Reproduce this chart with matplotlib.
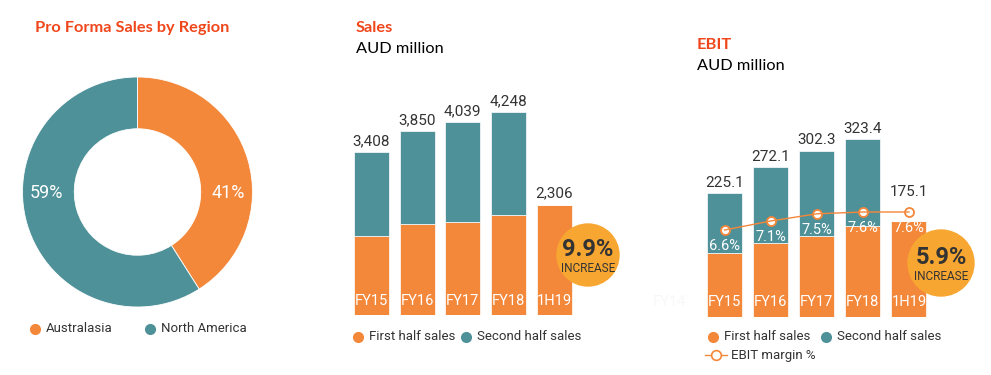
import matplotlib
matplotlib.use("Agg")
import matplotlib.pyplot as plt
from matplotlib.patches import Circle
from matplotlib.lines import Line2D

# ---------------------------------------------------------------------------
# Data
# ---------------------------------------------------------------------------
regions       = ["Australasia", "North America"]
region_share  = [41, 59]

periods       = ["FY15", "FY16", "FY17", "FY18", "1H19"]
sales_total   = [3408, 3850, 4039, 4248, 2306]
sales_first   = [1650, 1905, 1950, 2098, 2306]
sales_growth  = "9.9%"

ebit_total    = [225.1, 272.1, 302.3, 323.4, 175.1]
ebit_first    = [116.0, 135.0, 148.0, 165.3, 175.1]
ebit_margin   = [6.6, 7.1, 7.5, 7.6, 7.6]
ebit_growth   = "5.9%"

# ---------------------------------------------------------------------------
# Style
# ---------------------------------------------------------------------------
ORANGE = "#F3873A"
TEAL   = "#4F9199"
BADGE  = "#F7A731"
RED    = "#F0461B"
DARK   = "#333333"
W, H   = 991, 375
NUM_FONT = "Roboto"
TITLE_FONT = "Lato"


def ax_px(fig, x0, y0, x1, y1):
    """axes from pixel box (top-left origin)"""
    return fig.add_axes([x0 / W, (H - y1) / H, (x1 - x0) / W, (y1 - y0) / H])


fig = plt.figure(figsize=(W / 100, H / 100), dpi=100, facecolor="white")

# ------------------------------------------------------------------ #
# Donut
# ------------------------------------------------------------------ #
ax_d = ax_px(fig, 22.5, 77, 252.5, 307)
ax_d.pie(region_share, colors=[ORANGE, TEAL], startangle=90, counterclock=False,
         radius=1, wedgeprops=dict(width=0.45, edgecolor="white", linewidth=0.6))
ax_d.set_xlim(-1, 1)
ax_d.set_ylim(-1, 1)
ax_d.set_aspect("equal")
ax_d.axis("off")
ax_d.text(0.79, -0.01, f"{region_share[0]}%", color="white", fontsize=13,
          ha="center", va="center", family=NUM_FONT)
ax_d.text(-0.79, -0.01, f"{region_share[1]}%", color="white", fontsize=13,
          ha="center", va="center", family=NUM_FONT)

# ------------------------------------------------------------------ #
# Sales
# ------------------------------------------------------------------ #
ax_s = ax_px(fig, 348.5, 80, 577, 315)
xs = range(len(periods))
second = [t - f for t, f in zip(sales_total, sales_first)]
ax_s.bar(xs, sales_first, width=0.765, color=ORANGE, edgecolor="white", linewidth=0.5)
ax_s.bar(xs, second, bottom=sales_first, width=0.765, color=TEAL,
         edgecolor="white", linewidth=0.5)
ax_s.set_xlim(-0.5, 4.5)
ax_s.set_ylim(0, 235 / 0.0477)
ax_s.axis("off")
for x, t, p in zip(xs, sales_total, periods):
    ax_s.text(x, t + 90, f"{t:,}", ha="center", va="bottom", fontsize=11,
              color=DARK, family=NUM_FONT)
    ax_s.text(x, 290, p, ha="center", va="center", fontsize=10.5,
              color="white", family=NUM_FONT)

# ------------------------------------------------------------------ #
# EBIT
# ------------------------------------------------------------------ #
ax_e = ax_px(fig, 701.5, 100, 932, 317)
second_e = [t - f for t, f in zip(ebit_total, ebit_first)]
ax_e.bar(xs, ebit_first, width=0.76, color=ORANGE, edgecolor="white", linewidth=0.5)
ax_e.bar(xs, second_e, bottom=ebit_first, width=0.76, color=TEAL,
         edgecolor="white", linewidth=0.5)
ax_e.set_xlim(-0.5, 4.5)
ax_e.set_ylim(0, 217 / 0.55)
ax_e.axis("off")
for i, (x, t, p) in enumerate(zip(xs, ebit_total, periods)):
    lift = 40 if i == len(periods) - 1 else 6   # last label sits above the margin line
    ax_e.text(x, t + lift, f"{t:.1f}", ha="center", va="bottom", fontsize=11,
              color=DARK, family=NUM_FONT)
    ax_e.text(x, 27, p, ha="center", va="center", fontsize=10.5,
              color="white", family=NUM_FONT)
ax_e.text(-1.2, 27, "FY14", ha="center", va="center", fontsize=10.5,
          color="#f8f8f8", family=NUM_FONT, clip_on=False)

# margin on twin axis: 18 px per 1 %, 6.6 % sits 87 px above base
ax_m = ax_e.twinx()
m0 = 6.6 - 87 / 18
ax_m.set_ylim(m0, m0 + 217 / 18)
ax_m.plot(xs, ebit_margin, "o", markersize=6.5, markerfacecolor="white",
          markeredgecolor=ORANGE, markeredgewidth=1.3, zorder=3)
ax_m.plot(xs, ebit_margin, color=ORANGE, linewidth=1.0, zorder=4)
for x, m in zip(xs, ebit_margin):
    ax_m.text(x, m - 0.9, f"{m}%", ha="center", va="center", fontsize=10.5,
              color="white", family=NUM_FONT)
ax_m.axis("off")

# ------------------------------------------------------------------ #
# Overlay: titles, badges, legends (pixel coords)
# ------------------------------------------------------------------ #
ov = fig.add_axes([0, 0, 1, 1], zorder=10)
ov.set_xlim(0, W)
ov.set_ylim(H, 0)
ov.axis("off")
ov.patch.set_alpha(0)

ov.text(35, 28, "Pro Forma Sales by Region", color=RED, fontsize=11.8,
        fontweight="bold", family=TITLE_FONT, va="center")
ov.text(356, 28, "Sales", color=RED, fontsize=11.8, fontweight="bold",
        family=TITLE_FONT, va="center")
ov.text(356, 49, "AUD million", color="black", fontsize=11.8,
        family=TITLE_FONT, va="center")
ov.text(697, 45, "EBIT", color=RED, fontsize=11.8, fontweight="bold",
        family=TITLE_FONT, va="center")
ov.text(697, 66, "AUD million", color="black", fontsize=11.8,
        family=TITLE_FONT, va="center")

for (cx, cy, r), g in zip([(588, 255, 31), (941, 263, 33)], [sales_growth, ebit_growth]):
    ov.add_patch(Circle((cx, cy), r, color=BADGE, zorder=11))
    ov.text(cx, cy - 5, g, ha="center", va="center", fontsize=17,
            fontweight="bold", color=DARK, family=NUM_FONT, zorder=12)
    ov.text(cx, cy + 13, "INCREASE", ha="center", va="center", fontsize=8.5,
            color=DARK, family=NUM_FONT, zorder=12)


def legend_dot(x, y, color, label):
    ov.plot([x], [y], "o", color=color, markersize=7)
    ov.text(x + 11, y, label, va="center", fontsize=9.5, color=DARK, family=NUM_FONT)


legend_dot(35, 329, ORANGE, regions[0])
legend_dot(150, 329, TEAL, regions[1])
legend_dot(358, 337, ORANGE, "First half sales")
legend_dot(466, 337, TEAL, "Second half sales")
legend_dot(713, 337, ORANGE, "First half sales")
legend_dot(826, 337, TEAL, "Second half sales")
ov.add_line(Line2D([705, 727], [355, 355], color=ORANGE, linewidth=1.0))
ov.plot([716], [355], "o", markersize=7, markerfacecolor="white",
        markeredgecolor=ORANGE, markeredgewidth=1.2)
ov.text(731, 355, "EBIT margin %", va="center", fontsize=9.5, color=DARK, family=NUM_FONT)

fig.savefig("out.png", dpi=100, facecolor="white")
